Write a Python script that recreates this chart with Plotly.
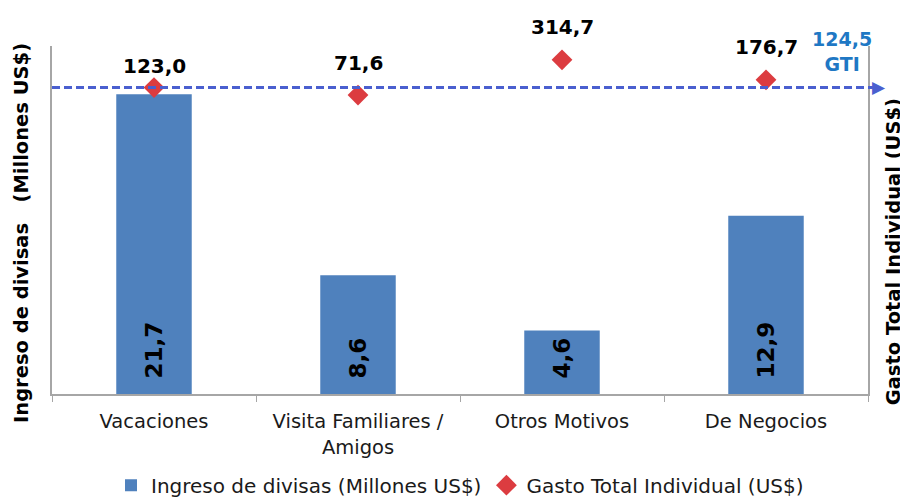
import plotly.graph_objects as go

categorias = ["Vacaciones", "Visita Familiares /<br>Amigos", "Otros Motivos", "De Negocios"]
ingreso = [21.7, 8.6, 4.6, 12.9]
gasto = [123.0, 71.6, 314.7, 176.7]
gti = 124.5

ingreso_txt = ["\u00a0\u2009" + f"{v:.1f}".replace(".", ",") for v in ingreso]
gasto_txt = [f"{v:.1f}".replace(".", ",") for v in gasto]
gti_txt = f"{gti:.1f}".replace(".", ",")

FONT = "DejaVu Sans"
BLUE_BAR = "#4F81BD"
RED = "#DC3C40"
LINE_BLUE = "#4A5FCF"
LABEL_BLUE = "#1F78C4"
AXIS_GRAY = "#A6A6A6"

fig = go.Figure()
fig.add_trace(go.Bar(
    x=categorias, y=ingreso, name="Ingreso de divisas (Millones US$)",
    marker=dict(color=BLUE_BAR, line=dict(width=0)),
    width=0.37,
    text=ingreso_txt, textposition="inside", insidetextanchor="start",
    textangle=-90, constraintext="none",
    textfont=dict(family=FONT, size=23, color="black", weight="bold"),
    yaxis="y",
))
fig.add_trace(go.Scatter(
    x=categorias, y=gasto, name="Gasto Total Individual (US$)",
    mode="markers", marker=dict(symbol="diamond", size=16, color=RED),
    yaxis="y2",
))

yshifts = [22, 32, 33, 33]
for c, v, t, s in zip(categorias, gasto, gasto_txt, yshifts):
    fig.add_annotation(x=c, y=v, yref="y2", text=t, showarrow=False,
                       yshift=s, font=dict(family=FONT, size=20, color="black", weight="bold"))

# GTI reference line
fig.add_shape(type="line", xref="paper", yref="y2", x0=0, x1=1.006, y0=gti, y1=gti,
              line=dict(color=LINE_BLUE, width=3, dash="8px,4px"))
fig.add_annotation(xref="paper", yref="y2", x=1.003, y=gti, text="\u25B6", showarrow=False,
                   xanchor="left", yanchor="middle", font=dict(family=FONT, size=17, color=LINE_BLUE))
fig.add_annotation(xref="paper", yref="y2", x=0.968, y=gti, text=gti_txt + "<br>GTI", showarrow=False,
                   xanchor="center", yanchor="bottom", yshift=10,
                   font=dict(family=FONT, size=19, color=LABEL_BLUE, weight="bold"))

# Axis titles
fig.add_annotation(xref="paper", yref="paper", x=-0.038, y=0.4626,
                   text="Ingreso de divisas \u00a0 (Millones US$)", showarrow=False, textangle=-90,
                   xanchor="center", yanchor="middle",
                   font=dict(family=FONT, size=19.5, color="black", weight="bold"))
fig.add_annotation(xref="paper", yref="paper", x=1.031, y=0.408,
                   text="Gasto Total Individual (US$)", showarrow=False, textangle=-90,
                   xanchor="center", yanchor="middle",
                   font=dict(family=FONT, size=19.5, color="black", weight="bold"))

fig.update_layout(
    width=900, height=495,
    margin=dict(l=44, r=40, t=38, b=109, autoexpand=False),
    plot_bgcolor="white", paper_bgcolor="white",
    font=dict(family=FONT, size=19.5, color="#1a1a1a"),
    showlegend=True,
    legend=dict(orientation="h", x=0.5, xanchor="center", yref="container", y=0.036,
                yanchor="middle",
                font=dict(family=FONT, size=20, color="#1a1a1a"), itemwidth=30,
                traceorder="normal"),
    xaxis=dict(type="category", showline=True, linecolor=AXIS_GRAY, linewidth=2,
               ticks="outside", tickson="boundaries", ticklen=6, tickcolor=AXIS_GRAY,
               ticklabelstandoff=9,
               showgrid=False, tickfont=dict(family=FONT, size=19.5, color="#1a1a1a")),
    yaxis=dict(range=[0, 25.2], showline=True, linecolor=AXIS_GRAY, linewidth=1.5,
               showticklabels=False, ticks="", showgrid=False, zeroline=False),
    yaxis2=dict(range=[-1990, 410], overlaying="y", side="right", showline=True,
                linecolor=AXIS_GRAY, linewidth=1.5, showticklabels=False, ticks="",
                showgrid=False, zeroline=False),
    bargap=0.63,
)

fig.write_html("out.html")
